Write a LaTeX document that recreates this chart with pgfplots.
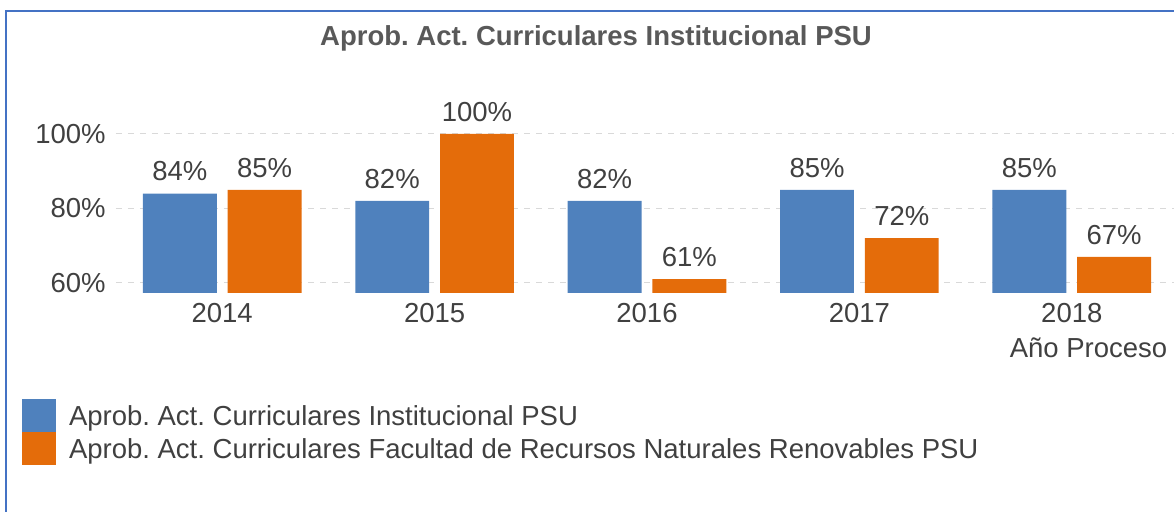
\documentclass[border=0pt]{standalone}
\usepackage{fontspec}
\setmainfont{Liberation Sans}
\usepackage{pgfplots}
\pgfplotsset{compat=1.18}
\definecolor{cblue}{HTML}{4F81BD}
\definecolor{corange}{HTML}{E46C0A}
\definecolor{ctext}{HTML}{404040}
\definecolor{ctitle}{HTML}{595959}
\definecolor{cgrid}{HTML}{D9D9D9}
\definecolor{cframe}{HTML}{4472C4}
\newcommand\fs{\fontsize{13.75}{16.5}\selectfont}
\frenchspacing
\begin{document}
\frenchspacing
\begin{tikzpicture}
\path[use as bounding box] (-58pt,-109.5pt) rectangle (529pt,146.5pt);
\draw[cframe, line width=1pt] (-55pt,-115pt) -- (-55pt,141pt) -- (535pt,141pt);
\begin{axis}[
 at={(0pt,0pt)}, anchor=south west,
 scale only axis, width=531pt, height=101.9pt,
 xmin=-0.5, xmax=4.5, ymin=57.3, ymax=112,
 xtick={0,1,2,3,4}, xticklabels={2014,2015,2016,2017,2018},
 ytick={60,80,100},
 yticklabel={\pgfmathprintnumber{\tick}\%},
 axis line style={draw=none},
 major tick length=0pt,
 ymajorgrids, grid style={cgrid, dashed, line width=0.5pt},
 tick label style={font=\fs, text=ctext},
 /pgf/number format/assume math mode=true,
 yticklabel style={inner sep=0pt, anchor=east, xshift=-5pt},
 xticklabel style={inner sep=0pt, anchor=north, yshift=-5pt},
 ybar, bar width=0.348,
 nodes near coords={\pgfmathprintnumber{\pgfplotspointmeta}\%},
 nodes near coords style={font=\fs, text=ctext, inner sep=0pt, anchor=south, yshift=6pt},
 legend style={at={(-0.0885,-0.52)}, anchor=north west, draw=none, fill=none,
   font=\fs\frenchspacing, text=ctext, inner sep=0pt, outer sep=0pt, row sep=0pt, column sep=0pt,
   nodes={inner sep=0pt, text height=13.25pt, text depth=3.25pt},
   /tikz/every odd column/.append style={column sep=6.5pt}},
 legend cell align=left,
 legend image code/.code={\fill[#1] (0pt,-8.25pt) rectangle (17pt,8.25pt);},
]
\addplot[fill=cblue, draw=none, bar shift=-0.1995] coordinates {(0,84) (1,82) (2,82) (3,85) (4,85)};
\addplot[fill=corange, draw=none, bar shift=0.1995] coordinates {(0,85) (1,100) (2,61) (3,72) (4,67)};
\legend{Aprob. Act. Curriculares Institucional PSU, Aprob. Act. Curriculares Facultad de Recursos Naturales Renovables PSU}
\end{axis}
\node[font=\fs\bfseries\frenchspacing, text=ctitle] at (240pt,127.5pt) {Aprob. Act. Curriculares Institucional PSU};
\node[font=\fs, text=ctext, anchor=base, inner sep=0pt] at (486.25pt,-32.5pt) {Año Proceso};
\end{tikzpicture}
\end{document}
